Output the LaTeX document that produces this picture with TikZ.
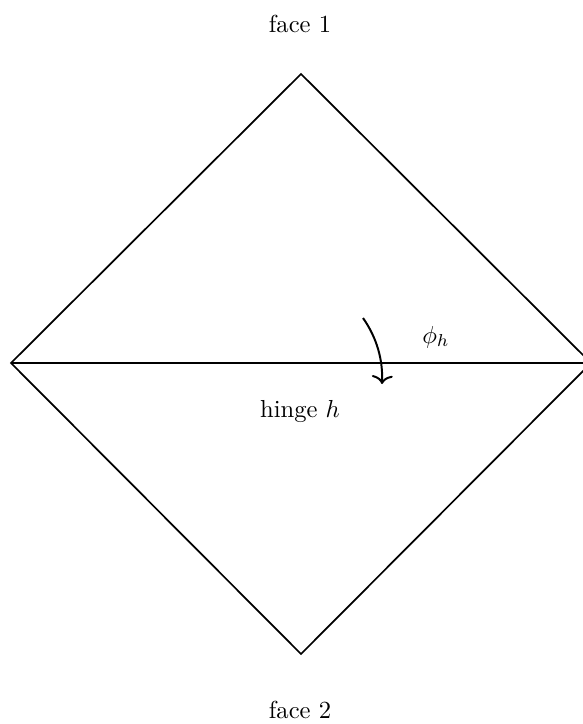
\documentclass[tikz,border=0pt]{standalone}
\usetikzlibrary{arrows.meta}
\begin{document}
\begin{tikzpicture}[x=0.4065pt,y=-0.4065pt,line width=0.7pt,
  lbl/.style={inner sep=0pt}]
\useasboundingbox (0,0) rectangle (582,724);
\coordinate (L) at (11,363);
\coordinate (T) at (301,74);
\coordinate (R) at (591,363);
\coordinate (B) at (301,654);
\draw (L) -- (T) -- (R) -- (B) -- cycle;
\draw (L) -- (R);
\node[lbl] (f1) at (300,24) {face 1};
\node[lbl] (f2) at (300,710) {face 2};
\node[lbl] (hh) at (300,411) {hinge $h$};
\node[lbl] (ph) at (436,337) {$\phi_h$};
\coordinate (a0) at (363,318);
\coordinate (a1) at (382,384);
\draw[line width=0.8pt,-{To[length=3.5pt,width=8.5pt]}] (a0) .. controls (377,338) and (383,360) .. (a1);
\end{tikzpicture}
\end{document}
